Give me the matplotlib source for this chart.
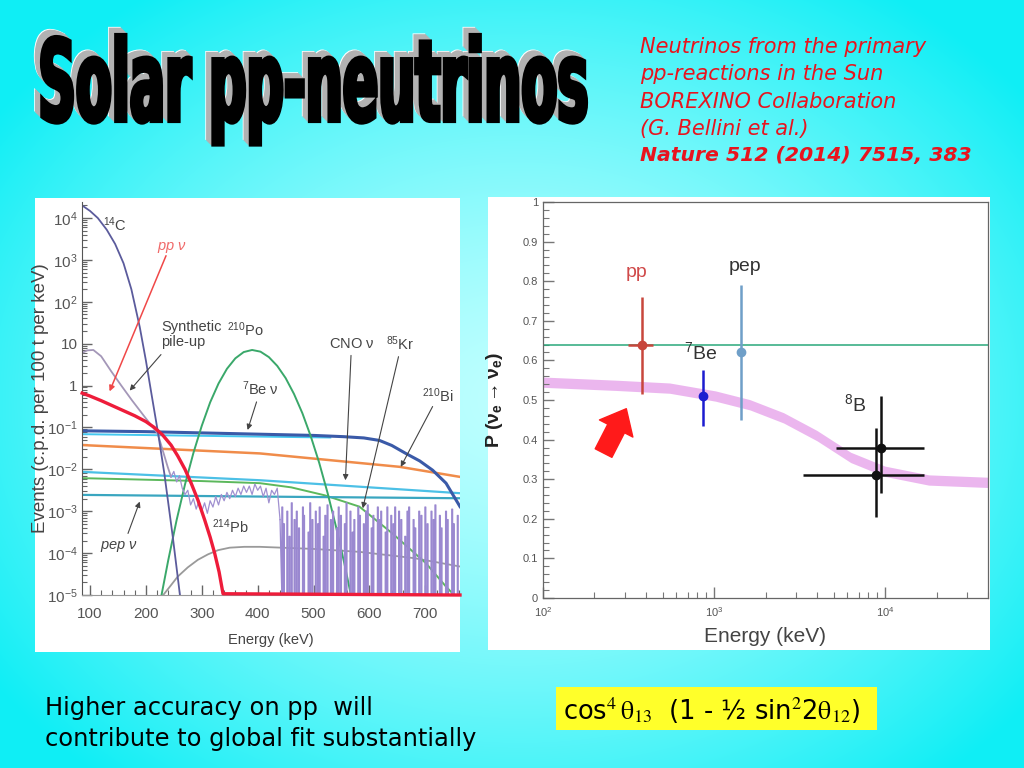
import numpy as np
import matplotlib
matplotlib.use('Agg')
import matplotlib.pyplot as plt
from matplotlib.patches import Rectangle, PathPatch
from matplotlib.textpath import TextPath
from matplotlib.font_manager import FontProperties
from matplotlib.transforms import Affine2D
from matplotlib.ticker import FixedLocator, MultipleLocator, LogLocator, NullFormatter, FuncFormatter

plt.rcParams['font.family'] = ['Liberation Sans', 'DejaVu Sans']
plt.rcParams['mathtext.fontset'] = 'stix'

# ---------------- data: left panel (Borexino spectrum), log10 of events ----------------
c14_E = [86, 100, 114, 130, 145, 160, 174, 189, 200, 210, 222, 233, 248, 260, 263]
c14_L = [4.3, 4.17, 4.0, 3.72, 3.38, 2.92, 2.3, 1.4, 0.6, -0.2, -1.15, -2.1, -3.6, -4.9, -5.2]

pp_E = [86, 100, 120, 140, 160, 180, 200, 215, 230, 245, 257, 270, 281, 293, 305, 315, 323,
        331, 338, 762]
pp_L = [-0.18, -0.25, -0.36, -0.48, -0.6, -0.72, -0.86, -1.0, -1.18, -1.42, -1.68, -2.0,
        -2.33, -2.73, -3.2, -3.62, -4.0, -4.45, -4.97, -5.0]

pu_E = [86, 95, 106, 120, 138, 156, 175, 198, 221, 239, 245]
pu_L = [0.78, 0.84, 0.85, 0.7, 0.34, 0.0, -0.35, -0.75, -1.14, -1.94, -2.18]

noise_E = [245, 250, 255, 260, 265, 270, 275, 280, 285, 290, 295, 300, 305, 310, 315, 320,
           325, 330, 335, 340, 345, 350, 355, 360, 365, 370, 375, 380, 385, 390, 395, 400,
           405, 410, 415, 420, 425, 430, 435, 440]
noise_L = [-2.18, -2.05, -2.3, -2.15, -2.45, -2.6, -2.5, -2.85, -2.7, -2.95, -2.75, -3.0,
           -2.8, -3.05, -2.75, -2.9, -2.65, -2.85, -2.6, -2.75, -2.55, -2.7, -2.5, -2.65,
           -2.45, -2.6, -2.4, -2.55, -2.4, -2.6, -2.35, -2.5, -2.4, -2.65, -2.45, -2.8,
           -2.5, -2.6, -2.45, -3.2]

spike_E = [444, 447, 451, 453, 457, 461, 464, 466, 470, 474, 477, 481, 483, 487, 491, 494,
           498, 500, 504, 508, 511, 515, 518, 521, 525, 528, 531, 535, 538, 542, 545, 549,
           552, 556, 559, 562, 566, 570, 573, 576, 580, 583, 587, 590, 594, 597, 601, 604,
           607, 611, 615, 618, 621, 625, 629, 632, 636, 639, 643, 646, 650, 653, 657, 661,
           664, 668, 671, 675, 679, 682, 686, 689, 693, 697, 700, 704, 707, 711, 715, 718,
           722, 726, 729, 733, 737, 740, 744, 748, 751, 755, 758]
spike_top = [-2.9, -3.3, -5, -3.0, -3.6, -2.8, -5, -3.2, -3.0, -3.4,
             -5, -2.9, -3.1, -5, -3.5, -2.8, -3.2, -5, -3.0, -3.3,
             -2.9, -5, -3.6, -3.1, -2.85, -5, -3.2, -3.0, -5, -3.4,
             -2.9, -3.1, -5, -3.3, -2.8, -5, -3.0, -3.5, -3.2, -5,
             -2.9, -3.1, -5, -3.3, -3.0, -2.85, -5, -3.4, -3.1, -5,
             -2.9, -3.2, -3.0, -5, -3.5, -2.9, -5, -3.1, -3.3, -2.9,
             -5, -3.0, -3.2, -5, -3.6, -3.0, -2.9, -5, -3.2, -3.4,
             -5, -3.0, -3.1, -5, -2.9, -3.3, -5, -3.0, -3.2, -2.85,
             -5, -3.1, -3.4, -5, -3.0, -3.2, -5, -2.95, -3.3, -5, -3.1]

po_E = [228, 240, 255, 270, 285, 300, 315, 330, 345, 360, 375, 390, 405, 420, 435, 450,
        465, 480, 495, 510, 525, 540, 555, 567, 572]
po_L = [-5.0, -4.17, -3.21, -2.36, -1.61, -0.96, -0.40, 0.05, 0.40, 0.65, 0.80, 0.85,
        0.81, 0.68, 0.47, 0.18, -0.20, -0.66, -1.21, -1.84, -2.56, -3.36, -4.24, -5.01, -5.3]

be7_E = [86, 200, 300, 400, 500, 554, 590, 618, 640, 665, 690, 713, 737, 762]
be7_L = [-1.08, -1.1, -1.13, -1.16, -1.19, -1.22, -1.25, -1.31, -1.43, -1.62, -1.8, -2.02, -2.33, -2.89]
be7b_E = [86, 300, 530]
be7b_L = [-1.16, -1.2, -1.24]

bi_E = [86, 404, 654, 762]
bi_L = [-1.42, -1.62, -1.94, -2.18]

cno_E = [86, 404, 762]
cno_L = [-2.06, -2.26, -2.57]

pep_E = [86, 404, 762]
pep_L = [-2.61, -2.65, -2.69]

kr_E = [86, 300, 404, 460, 520, 582, 641, 701, 737, 755]
kr_L = [-2.21, -2.28, -2.33, -2.43, -2.62, -2.89, -3.53, -4.24, -4.80, -5.05]

pb_E = [228, 240, 257, 275, 293, 311, 329, 350, 376, 404, 500, 582, 680, 762]
pb_L = [-5.05, -4.85, -4.56, -4.34, -4.16, -4.03, -3.93, -3.87, -3.85, -3.85, -3.9, -3.97, -4.12, -4.32]

left_yticks = [-5, -4, -3, -2, -1, 0, 1, 2, 3, 4]
left_xticks = [100, 200, 300, 400, 500, 600, 700]

# ---------------- data: right panel (survival probability) ----------------
band_E = [100, 270, 550, 1020, 1620, 2550, 4000, 6300, 10000, 18000, 40000]
band_P = [0.545, 0.537, 0.530, 0.510, 0.488, 0.455, 0.410, 0.355, 0.320, 0.298, 0.292]
band_halfwidth = 0.013

pts_name = ['pp', '7Be', 'pep', '8B_a', '8B_b']
pts_E = [380, 862, 1440, 9500, 8900]
pts_P = [0.64, 0.51, 0.62, 0.38, 0.31]
pts_Plo = [0.515, 0.435, 0.45, 0.265, 0.205]
pts_Phi = [0.76, 0.577, 0.79, 0.51, 0.43]
pts_Elo = [312, 862, 1440, 5200, 3300]
pts_Ehi = [441, 862, 1440, 17000, 17000]
pts_color = ['#c8463c', '#1c1cd0', '#6f9fc8', '#111111', '#111111']
vac_P = 0.64

# ---------------- figure ----------------
W, H = 1024, 768
fig = plt.figure(figsize=(10.24, 7.68), dpi=100)

def frect(x0, y0, x1, y1):
    return [x0 / W, 1 - y1 / H, (x1 - x0) / W, (y1 - y0) / H]

bg = fig.add_axes([0, 0, 1, 1], zorder=-10)
yy, xx = np.mgrid[0:H, 0:W]
r = np.sqrt(((xx - 520) / 640.) ** 2 + ((yy - 400) / 500.) ** 2)
t = np.clip(r, 0, 1) ** 1.4
inner = np.array([190, 255, 255]) / 255
outer = np.array([15, 238, 245]) / 255
img = inner[None, None, :] * (1 - t[..., None]) + outer[None, None, :] * t[..., None]
bg.imshow(img, extent=[0, W, H, 0], aspect='auto', interpolation='bilinear')
bg.set_xlim(0, W)
bg.set_ylim(H, 0)
bg.axis('off')

# white panels and yellow formula box
bg.add_patch(Rectangle((35, 198), 425, 454, facecolor='white', edgecolor='none'))
bg.add_patch(Rectangle((488, 197), 502, 453, facecolor='white', edgecolor='none'))
bg.add_patch(Rectangle((556, 687), 321, 43, facecolor='#ffff2a', edgecolor='none'))

# Title with 3D extrusion
fp = FontProperties(family='DejaVu Sans', weight='bold')
tp = TextPath((0, 0), 'Solar pp-neutrinos', size=100, prop=fp)
ext = tp.get_extents()
sx = (586 - 42) / ext.width
sy = 86 / ext.y1
base = Affine2D().translate(-ext.x0, 0).scale(sx, -sy).translate(42, 121)
for k in range(8, 0, -1):
    if k == 8:
        fc, ec = 'white', 'white'
    else:
        fc, ec = '#b2b2b2', '#b2b2b2'
    bg.add_patch(PathPatch(tp, transform=base + Affine2D().translate(-k * 0.8, -k * 0.8) + bg.transData,
                           facecolor=fc, edgecolor=ec, lw=2.5))
bg.add_patch(PathPatch(tp, transform=base + bg.transData, facecolor='black', edgecolor='black', lw=3))

# reference text (red)
ref_lines = ['Neutrinos from the primary', 'pp-reactions in the Sun', 'BOREXINO Collaboration',
             '(G. Bellini et al.)']
for i, s in enumerate(ref_lines):
    bg.text(640, 47 + 27.3 * i, s, color='#e8141e', fontsize=15, style='italic',
            family='DejaVu Sans', va='center', ha='left')
bg.text(640, 156, 'Nature 512 (2014) 7515, 383', color='#e8141e', fontsize=14.7, style='italic',
        weight='bold', family='DejaVu Sans', va='center', ha='left')

bg.text(45, 708, 'Higher accuracy on pp  will', fontsize=17.4, family='DejaVu Sans', va='center')
bg.text(45, 739, 'contribute to global fit substantially', fontsize=17.4, family='DejaVu Sans', va='center')
bg.text(563, 711, r'cos$^{4}\,\mathrm{\theta}_{13}$  (1 - ½ sin$^{2}$2$\mathrm{\theta}_{12}$)', fontsize=18.5,
        family='DejaVu Sans', va='center', ha='left')

# ---------------- left axes ----------------
axL = fig.add_axes(frect(82, 201.7, 460, 595), zorder=1)
axL.set_facecolor('none')
axL.set_yscale('log')
axL.set_xlim(85.7, 762)
axL.set_ylim(1e-5, 10 ** 4.39)

def pw(a):
    return 10.0 ** np.asarray(a, dtype=float)

axL.plot(pb_E, pw(pb_L), color='#9a9a9a', lw=1.3)
axL.plot(kr_E, pw(kr_L), color='#5cb85c', lw=1.4)
axL.plot(pep_E, pw(pep_L), color='#3aa6c0', lw=1.6)
axL.plot(cno_E, pw(cno_L), color='#4cc0e6', lw=1.6)
axL.plot(bi_E, pw(bi_L), color='#f08c4a', lw=1.8)
axL.plot(be7b_E, pw(be7b_L), color='#44c8f0', lw=1.4)
axL.plot(be7_E, pw(be7_L), color='#3a5aa8', lw=2.2)
axL.plot(po_E, pw(po_L), color='#3aa86a', lw=1.4)

# synthetic pile-up
axL.plot(pu_E, pw(pu_L), color='#a497b8', lw=1.3)
axL.plot(noise_E, pw(noise_L), color='#a090d0', lw=0.9)
xs, ys = [440], [-3.2]
for e, top in zip(spike_E, spike_top):
    xs += [e - 0.8, e - 0.8, e + 0.8, e + 0.8]
    ys += [-5.0, top, top, -5.0]
axL.plot(xs, pw(ys), color='#9a88d0', lw=0.9)

axL.plot(c14_E, pw(c14_L), color='#5b5b9c', lw=1.3)
axL.plot(pp_E, pw(pp_L), color='#ee1c3a', lw=2.4, clip_on=False, zorder=5)

for side in ['top', 'right']:
    axL.spines[side].set_visible(False)
axL.spines['left'].set_color('#555555')
axL.spines['bottom'].set_color('#999999')

axL.yaxis.set_major_locator(FixedLocator([10.0 ** k for k in left_yticks]))
axL.yaxis.set_minor_locator(LogLocator(base=10, subs=np.arange(2, 10), numticks=20))
axL.yaxis.set_minor_formatter(NullFormatter())

def lfmt(v, pos):
    k = int(round(np.log10(v)))
    if k == 0:
        return '1'
    if k == 1:
        return '10'
    return r'$\mathregular{10^{%d}}$' % k

axL.yaxis.set_major_formatter(FuncFormatter(lfmt))
axL.xaxis.set_major_locator(FixedLocator(left_xticks))
axL.xaxis.set_minor_locator(MultipleLocator(20))
axL.tick_params(which='both', direction='in', colors='#666666', labelcolor='#555555', labelsize=11)
axL.tick_params(which='major', length=7, width=1)
axL.tick_params(which='minor', length=3.5, width=0.8)
axL.tick_params(axis='x', pad=9)
axL.tick_params(axis='y', pad=3)
axL.set_xlabel('Energy (keV)', fontsize=10.5, color='#444444')
axL.xaxis.set_label_coords(0.5, -0.097)
axL.set_ylabel('Events (c.p.d. per 100 t per keV)', fontsize=13.5, color='#444444')
axL.yaxis.set_label_coords(-0.087, 0.5)

lab = dict(fontsize=10.5, color='#444444', ha='center', va='center')
axL.text(145, 10 ** 3.83, r'$\mathregular{^{14}C}$', **lab)
axL.text(246, 10 ** 3.29, r'pp $\mathregular{\nu}$', fontsize=10.5, color='#f06a6a', style='italic',
         ha='center', va='center')
axL.text(227, 10 ** 1.22, 'Synthetic\npile-up', fontsize=10.5, color='#444444', ha='left', va='center',
         linespacing=1.05)
axL.text(379, 10 ** 1.33, r'$\mathregular{^{210}Po}$', **lab)
axL.text(404, 10 ** -0.07, r'$\mathregular{^{7}Be\ \nu}$', **lab)
axL.text(569, 10 ** 1.0, r'CNO $\mathregular{\nu}$', **lab)
axL.text(655, 10 ** 1.0, r'$\mathregular{^{85}Kr}$', **lab)
axL.text(722, 10 ** -0.23, r'$\mathregular{^{210}Bi}$', **lab)
axL.text(352, 10 ** -3.37, r'$\mathregular{^{214}Pb}$', **lab)
axL.text(152, 10 ** -3.85, r'pep $\mathregular{\nu}$', fontsize=10.5, color='#444444', style='italic',
         ha='center', va='center')

arr = dict(arrowstyle='-|>', color='#444444', lw=0.8, mutation_scale=8, shrinkA=0, shrinkB=0)
axL.annotate('', xy=(135, 10 ** -0.14), xytext=(236, 10 ** 3.10),
             arrowprops=dict(arr, color='#f04848', lw=1.1))
axL.annotate('', xy=(171, 10 ** -0.12), xytext=(227, 10 ** 0.74), arrowprops=arr)
axL.annotate('', xy=(382, 10 ** -1.06), xytext=(398, 10 ** -0.39), arrowprops=arr)
axL.annotate('', xy=(557, 10 ** -2.26), xytext=(567, 10 ** 0.72), arrowprops=arr)
axL.annotate('', xy=(588, 10 ** -2.93), xytext=(652, 10 ** 0.69), arrowprops=arr)
axL.annotate('', xy=(656, 10 ** -1.94), xytext=(713, 10 ** -0.50), arrowprops=arr)
axL.annotate('', xy=(189, 10 ** -2.77), xytext=(168, 10 ** -3.53), arrowprops=arr)

# ---------------- right axes ----------------
axR = fig.add_axes(frect(543, 202, 988, 598), zorder=1)
axR.set_facecolor('none')
axR.set_xscale('log')
axR.set_xlim(100, 4e4)
axR.set_ylim(0, 1)

bP = np.array(band_P)
axR.fill_between(band_E, bP - band_halfwidth, bP + band_halfwidth, color='#e8aaec', alpha=0.85, lw=0)
axR.axhline(vac_P, color='#2aa87a', lw=1.1)

for i in range(len(pts_E)):
    axR.errorbar([pts_E[i]], [pts_P[i]],
                 yerr=[[pts_P[i] - pts_Plo[i]], [pts_Phi[i] - pts_P[i]]],
                 xerr=[[pts_E[i] - pts_Elo[i]], [pts_Ehi[i] - pts_E[i]]],
                 fmt='o', ms=6, color=pts_color[i], ecolor=pts_color[i], elinewidth=1.8,
                 capsize=0, zorder=4)

axR.text(352, 0.822, 'pp', color='#d04a4a', fontsize=14, ha='center', va='center')
axR.text(1510, 0.836, 'pep', color='#333333', fontsize=14, ha='center', va='center')
axR.text(840, 0.622, r'$\mathregular{^{7}Be}$', color='#333333', fontsize=14, ha='center', va='center')
axR.text(6700, 0.49, r'$\mathregular{^{8}B}$', color='#333333', fontsize=14, ha='center', va='center')

axR.annotate('', xy=(307, 0.478), xytext=(226, 0.366),
             arrowprops=dict(arrowstyle='simple,head_width=2.7,head_length=1.6,tail_width=1.35',
                             color='#ff1a1a', mutation_scale=10, shrinkA=0, shrinkB=0))

for s in axR.spines.values():
    s.set_color('#666666')
    s.set_linewidth(0.9)
axR.yaxis.set_major_locator(MultipleLocator(0.1))
axR.yaxis.set_minor_locator(MultipleLocator(0.02))

def rfmt(v, pos):
    if abs(v) < 1e-9:
        return '0'
    if abs(v - 1) < 1e-9:
        return '1'
    return '%.1f' % v

axR.yaxis.set_major_formatter(FuncFormatter(rfmt))
axR.xaxis.set_major_locator(FixedLocator([1e2, 1e3, 1e4]))
axR.xaxis.set_major_formatter(FuncFormatter(lambda v, p: r'$\mathregular{10^{%d}}$' % int(round(np.log10(v)))))
axR.xaxis.set_minor_locator(LogLocator(base=10, subs=np.arange(2, 10), numticks=20))
axR.xaxis.set_minor_formatter(NullFormatter())
axR.tick_params(which='both', direction='in', colors='#777777', labelcolor='#555555', labelsize=8)
axR.tick_params(which='major', length=8, width=1)
axR.tick_params(which='minor', length=4, width=0.8)
axR.tick_params(axis='x', pad=5)
axR.set_xlabel('Energy (keV)', fontsize=15, color='#444444')
axR.xaxis.set_label_coords(0.5, -0.073)
axR.set_ylabel(r'P ($\mathregular{\nu_e \rightarrow \nu_e}$)', fontsize=14, color='#222222',
               weight='bold')
axR.yaxis.set_label_coords(-0.085, 0.5)

fig.savefig('out.png', dpi=100)
